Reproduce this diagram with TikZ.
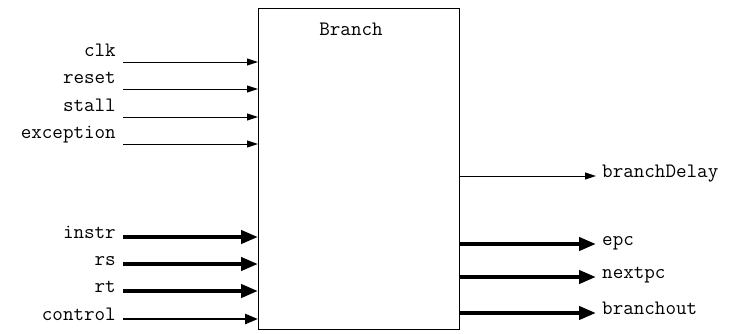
\documentclass[tikz,border=0pt]{standalone}
\usepackage{fontspec}
\usetikzlibrary{arrows.meta}
\begin{document}
\begin{tikzpicture}[x=1pt,y=-1pt,
  lbl/.style={font=\ttfamily\fontsize{20.5}{23}\selectfont, inner sep=0pt},
  thinarrow/.style={line width=1pt, -{Triangle[length=11pt,width=7pt]}},
  busarrow/.style={line width=4pt, -{Triangle[length=17pt,width=13pt]}},
  midarrow/.style={line width=2.5pt, -{Triangle[length=13pt,width=10pt]}}]
\useasboundingbox (0,0) rectangle (730,333);
\node[draw, line width=1pt, minimum width=201pt, minimum height=321pt, inner sep=0pt] (box) at (358.5,169) {};
\node[lbl, anchor=base] (title) at (351,35) {Branch};
% top inputs
\foreach \nm/\yy in {clk/62, reset/89, stall/117, exception/144}{
  \coordinate (s\nm) at (123,\yy);
  \coordinate (e\nm) at (258,\yy);
  \node[lbl, anchor=base east] (l\nm) at (116,\yy-6) {\nm};
  \draw[thinarrow] (s\nm) -- (e\nm);
}
% bus inputs
\foreach \nm/\yy in {instr/237, rs/264, rt/291}{
  \coordinate (s\nm) at (123,\yy);
  \coordinate (e\nm) at (258,\yy);
  \node[lbl, anchor=base east] (l\nm) at (116,\yy+1) {\nm};
  \draw[busarrow] (s\nm) -- (e\nm);
}
\coordinate (scontrol) at (123,319);
\coordinate (econtrol) at (258,319);
\node[lbl, anchor=base east] (lcontrol) at (116,320) {control};
\draw[midarrow] (scontrol) -- (econtrol);
% outputs
\coordinate (obranchDelay) at (459,176);
\coordinate (tbranchDelay) at (596,176);
\node[lbl, anchor=base west] (lbranchDelay) at (602,177) {branchDelay};
\draw[thinarrow] (obranchDelay) -- (tbranchDelay);
\foreach \nm/\yy in {epc/244, nextpc/277, branchout/313}{
  \coordinate (o\nm) at (459,\yy);
  \coordinate (t\nm) at (596,\yy);
  \node[lbl, anchor=base west] (l\nm) at (602,\yy+1) {\nm};
  \draw[busarrow] (o\nm) -- (t\nm);
}
\end{tikzpicture}
\end{document}
